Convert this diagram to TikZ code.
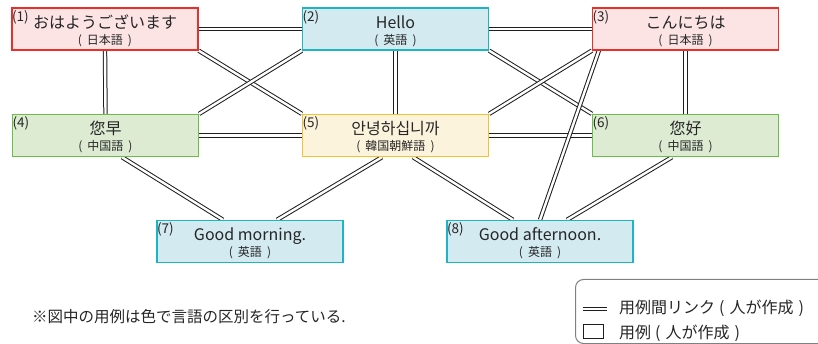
\documentclass[tikz,border=0pt]{standalone}
\usepackage{fontspec}
\setmainfont{Noto Sans CJK JP}
\newfontfamily\kr{Noto Sans CJK KR}
\usetikzlibrary{calc}
\definecolor{redB}{HTML}{E8302A}
\definecolor{redF}{HTML}{FCE4E5}
\definecolor{cyanB}{HTML}{1DB5C4}
\definecolor{cyanF}{HTML}{D3EAF0}
\definecolor{greenB}{HTML}{6ABE45}
\definecolor{greenF}{HTML}{DDEBD3}
\definecolor{yelB}{HTML}{F6C02E}
\definecolor{yelF}{HTML}{FCF3DD}
\definecolor{txt}{HTML}{262626}
\definecolor{linkc}{HTML}{1E1E1E}
\definecolor{legc}{HTML}{808080}
\pgfdeclarelayer{bg}
\pgfsetlayers{bg,main}
\newcommand\olp{(\hspace{5pt}}
\newcommand\orp{\hspace{5pt})}
\tikzset{
  box/.style={draw, line width=1.3pt, minimum width=186pt, minimum height=42pt, inner sep=0pt},
  rbox/.style={box, draw=redB, fill=redF},
  cbox/.style={box, draw=cyanB, fill=cyanF},
  gbox/.style={box, draw=greenB, fill=greenF},
  ybox/.style={box, draw=yelB, fill=yelF},
  link/.style={draw=linkc, line width=1pt, double=white, double distance=2.4pt},
  mainlbl/.style={font=\fontsize{16}{16}\selectfont, text=txt, anchor=base, inner sep=0pt},
  sublbl/.style={font=\fontsize{12}{12}\selectfont, text=txt, anchor=base, inner sep=0pt},
  numlbl/.style={font=\fontsize{13.5}{13.5}\selectfont, text=txt, anchor=base west, inner sep=0pt},
  legtxt/.style={font=\fontsize{15.5}{15.5}\selectfont, text=txt, anchor=base west, inner sep=0pt},
}
\begin{document}
\begin{tikzpicture}[x=1pt,y=-1pt]
\useasboundingbox (0,0) rectangle (818,344);
\clip (0,0) rectangle (818,344);

% boxes
\node[rbox] (b1) at (105,29) {};
\node[cbox] (b2) at (395.5,29) {};
\node[rbox] (b3) at (685.5,29) {};
\node[gbox] (b4) at (105.5,135.5) {};
\node[ybox] (b5) at (395.5,135.5) {};
\node[gbox] (b6) at (685.5,135.5) {};
\node[cbox] (b7) at (250,241.5) {};
\node[cbox] (b8) at (540,241.5) {};

% labels
\foreach \i/\m/\s in {1/おはようございます/日本語,2/Hello/英語,3/こんにちは/日本語,4/您早/中国語,6/您好/中国語,7/Good morning./英語,8/Good afternoon./英語}{
  \node[numlbl] (n\i) at ([xshift=0.5pt,yshift=-14pt]b\i.north west) {(\i)};
  \node[mainlbl] (m\i) at ([yshift=0.5pt]b\i.center) {\m};
  \node[sublbl] (s\i) at ([yshift=-15.5pt]b\i.center) {\olp\s\orp};
}
\node[numlbl] (n5) at ([xshift=0.5pt,yshift=-14pt]b5.north west) {(5)};
\node[mainlbl] (m5) at ([yshift=0.5pt]b5.center) {\kr 안녕하십니까};
\node[sublbl] (s5) at ([yshift=-15.5pt]b5.center) {\olp 韓国朝鮮語\orp};

% links
\begin{pgfonlayer}{bg}
\draw[link] (b1.east) -- (b2.west);
\draw[link] (b2.east) -- (b3.west);
\draw[link] (b1.south) -- (b4.north);
\draw[link] (b2.south) -- (b5.north);
\draw[link] (b3.south) -- (b6.north);
\draw[link] (b4.east) -- (b5.west);
\draw[link] (b5.east) -- (b6.west);
\draw[link] (b1.south east) -- (b5.north west);
\draw[link] (b2.south west) -- (b4.north east);
\draw[link] (b2.south east) -- (b6.north west);
\draw[link] (b3.south west) -- (b5.north east);
\draw[link] ([xshift=7pt]b3.south west) -- (b8.north);
\draw[link] ([xshift=16.5pt]b4.south) -- ([xshift=-27pt]b7.north);
\draw[link] ([xshift=-13.5pt]b5.south) -- ([xshift=27pt]b7.north);
\draw[link] ([xshift=17.5pt]b5.south) -- ([xshift=-27pt]b8.north);
\draw[link] ([xshift=-13.5pt]b6.south) -- ([xshift=27pt]b8.north);
\end{pgfonlayer}

% note
\node[legtxt] (note) at (32,322) {※図中の用例は色で言語の区別を行っている.};

% legend
\node[draw=legc, line width=1pt, rounded corners=8pt, minimum width=280pt, minimum height=64pt, anchor=north west, inner sep=0pt] (leg) at (575,279) {};
\coordinate (la) at (583,309);
\coordinate (lb) at (607,309);
\draw[link] (la) -- (lb);
\node[draw=linkc, line width=1pt, minimum width=20pt, minimum height=14pt, inner sep=0pt] (lr) at (593,331) {};
\node[legtxt, font=\fontsize{16}{16}\selectfont] (l1) at (619,313) {用例間リンク\hspace{4pt}\olp 人が作成\orp};
\node[legtxt, font=\fontsize{16}{16}\selectfont] (l2) at (619,338) {用例\hspace{4pt}\olp 人が作成\orp};
\end{tikzpicture}
\end{document}
